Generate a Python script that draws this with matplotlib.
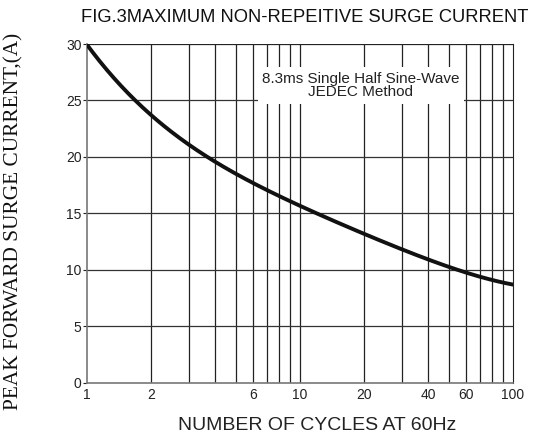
import numpy as np
import matplotlib
matplotlib.use("Agg")
from matplotlib import pyplot as plt

# Curve: cycles vs peak surge current (A)
cycles = [1, 1.65, 2, 3, 3.7, 5, 6, 8, 10, 20, 40, 57, 100]
current = [30.0, 25.0, 23.7, 21.2, 20.0, 18.5, 17.7, 16.6, 15.6, 13.1, 10.9, 10.0, 8.65]

x_ticks = [1, 2, 6, 10, 20, 40, 60, 100]
y_ticks = [0, 5, 10, 15, 20, 25, 30]
v_grid = [2, 3, 4, 5, 6, 7, 8, 9, 10, 20, 30, 40, 50, 60, 70, 80, 90]
h_grid = [5, 10, 15, 20, 25]

title = "FIG.3MAXIMUM NON-REPEITIVE SURGE CURRENT"
x_label = "NUMBER OF CYCLES AT 60Hz"
y_label = "PEAK FORWARD SURGE CURRENT,(A)"
note = "8.3ms Single Half Sine-Wave\nJEDEC Method"

plt.rcParams['font.family'] = ['Liberation Sans', 'DejaVu Sans']

fig = plt.figure(figsize=(5.39, 4.41), dpi=100)
ax = fig.add_axes([87 / 539, 1 - 382.7 / 441, 426 / 539, 338.7 / 441])

ax.set_xscale('log')
ax.set_xlim(1, 100)
ax.set_ylim(0, 30)

for xv in v_grid:
    ax.axvline(xv, color='#222222', lw=0.9, zorder=1)
for yv in h_grid:
    ax.axhline(yv, color='#333333', lw=0.9, zorder=1)
ax.axhline(30, color='#222222', lw=0.9, zorder=1)

# smooth least-squares fit in log(cycles) through the read points
lx = np.log10(cycles)
coef = np.polyfit(lx, current, 4)
xs = np.linspace(0, 2, 300)
ys = np.polyval(coef, xs)
ax.plot(10 ** xs, ys, color='#111111', lw=2.8, solid_capstyle='round', zorder=4)

ax.text(0.643, 0.877, note, transform=ax.transAxes, ha='center', va='center',
        fontsize=11, linespacing=0.95, color='#222222', zorder=3,
        bbox=dict(boxstyle='square,pad=0.3', fc='white', ec='none'))

ax.set_xticks(x_ticks)
ax.set_xticklabels([str(v) for v in x_ticks])
ax.xaxis.set_minor_locator(matplotlib.ticker.NullLocator())
ax.set_yticks(y_ticks)
ax.tick_params(axis='x', length=0, pad=4, labelsize=10, colors='#222222')
ax.tick_params(axis='y', length=3, width=0.8, pad=1, labelsize=10, colors='#222222')

for side in ['left', 'bottom']:
    ax.spines[side].set_color('#777777')
    ax.spines[side].set_linewidth(1.2)
ax.spines['right'].set_color('#222222')
ax.spines['top'].set_visible(False)

fig.text(305 / 539, 1 - 17 / 441, title, ha='center', va='center',
         fontsize=13.2, color='#111111')
fig.text(317 / 539, 1 - 426 / 441, x_label, ha='center', va='center',
         fontsize=14, color='#222222')
fig.text(14 / 539, 1 - 221 / 441, y_label, ha='center', va='center',
         rotation=90, fontsize=15.3, color='#111111',
         family=['Liberation Serif', 'DejaVu Serif'])

fig.savefig("out.png", dpi=100)
